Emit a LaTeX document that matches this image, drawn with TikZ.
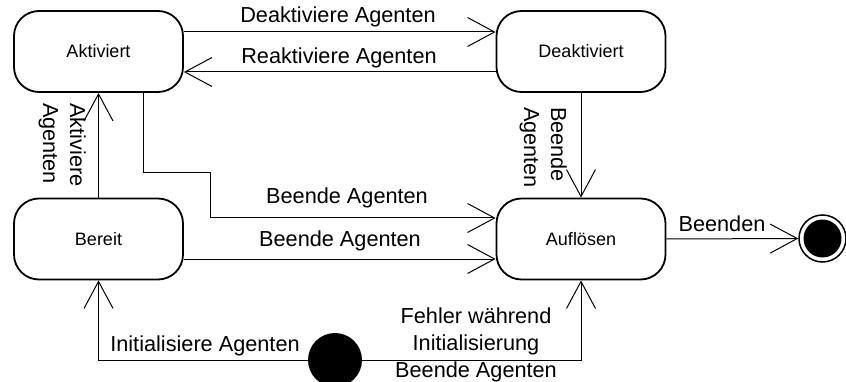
\documentclass[tikz,border=0pt]{standalone}
\usepackage{fontspec}
\setmainfont{Liberation Sans}
\usetikzlibrary{arrows.meta}
\begin{document}
\begin{tikzpicture}[x=1pt,y=-1pt,
  state/.style={draw, line width=1.8pt, rounded corners=25pt,
    minimum width=169pt, minimum height=81pt, inner sep=0pt,
    font=\fontsize{18}{20}\selectfont},
  trans/.style={line width=1pt, -{Straight Barb[length=27pt,width=29pt,line width=1pt]}},
  lbl/.style={font=\fontsize{21.7}{27}\selectfont, inner sep=0pt, align=center},
  vlbl/.style={lbl, rotate=-90, align=left}]
\useasboundingbox (0,0) rectangle (846,382);

% states
\node[state] (akt)   at (98.5,51.5) {Aktiviert};
\node[state] (deakt) at (581,51.5)  {Deaktiviert};
\node[state] (ber)   at (98.5,239)  {Bereit};
\node[state] (aufl)  at (581,239)   {Auflösen};

% initial and final pseudo-states
\node[circle, fill=black, minimum size=54pt, inner sep=0pt] (init) at (335,360) {};
\node[circle, draw, line width=1.5pt, minimum size=47pt, inner sep=0pt] (fin) at (822.5,238.5) {};
\node[circle, fill=black, minimum size=38pt, inner sep=0pt] (finc) at (fin.center) {};

% transitions
\draw[trans] ([yshift=19.5pt]akt.east) -- ([yshift=19.5pt]deakt.west);
\draw[trans] ([yshift=-20.5pt]deakt.west) -- ([yshift=-20.5pt]akt.east);
\draw[trans] (ber.north) -- (akt.south);
\coordinate (k1) at (143,173);
\coordinate (k2) at (210,173);
\coordinate (k3) at (210,218);
\draw[trans] (akt.south -| k1) -- (k1) -- (k2) -- (k3) -- ([yshift=21pt]aufl.west);
\draw[trans] ([yshift=-20pt]ber.east) -- ([yshift=-20pt]aufl.west);
\draw[trans] (deakt.south) -- (aufl.north);
\draw[trans] (aufl.east) -- (fin.west);
\draw[trans] (init.west) -| (ber.south);
\draw[trans] (init.east) -| (aufl.south);

% labels
\node[lbl] (l1) at (338,17)  {Deaktiviere Agenten};
\node[lbl] (l2) at (339,58)  {Reaktiviere Agenten};
\node[lbl] (l3) at (347,198) {Beende Agenten};
\node[lbl] (l4) at (340,241) {Beende Agenten};
\node[lbl] (l5) at (722,224) {Beenden};
\node[lbl] (l6) at (205,346) {Initialisiere Agenten};
\node[lbl] (l7) at (476,345) {Fehler während\\Initialisierung\\Beende Agenten};
\node[vlbl, anchor=north west] (l8) at (86,103) {Aktiviere\\Agenten};
\node[vlbl, anchor=north west] (l9) at (567,107) {Beende\\Agenten};
\end{tikzpicture}
\end{document}
